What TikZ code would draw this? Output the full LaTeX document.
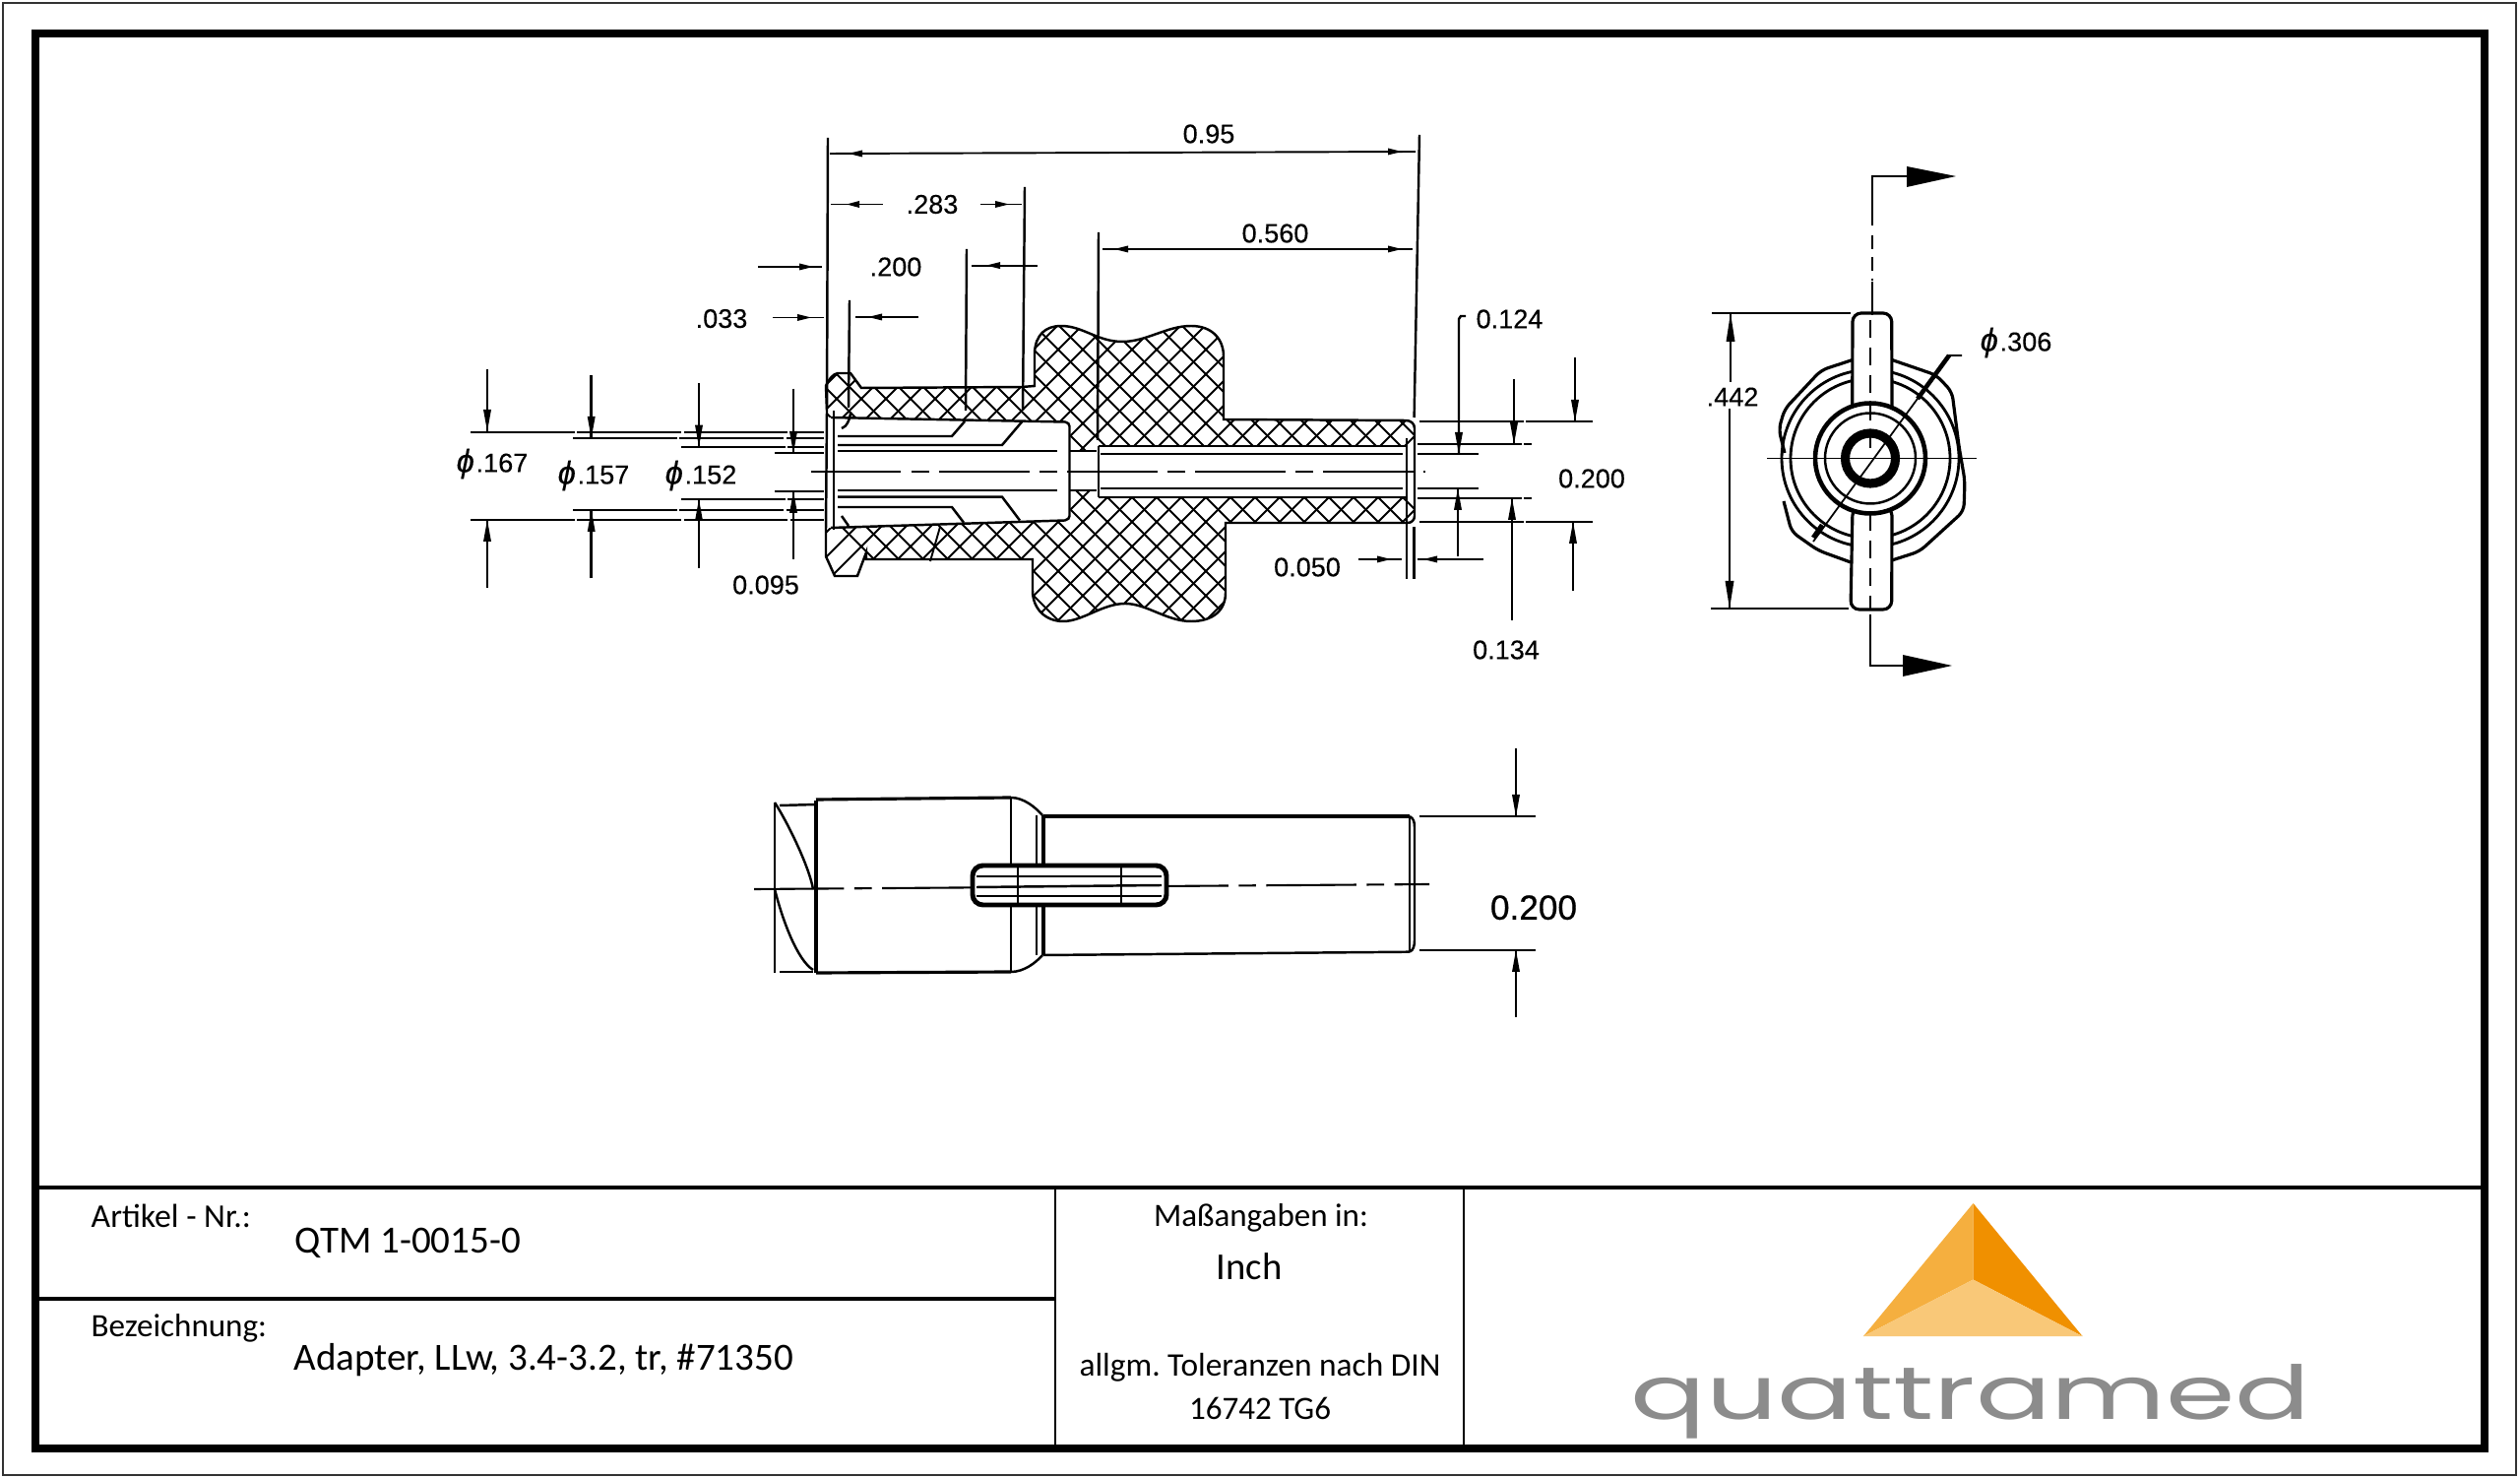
\documentclass[tikz,border=0pt]{standalone}
\usepackage{fontspec}
\usepackage{graphicx}
\setmainfont{Liberation Sans}
\newfontfamily\dimf[FakeBold=0.2]{Liberation Sans}
\newfontfamily\dimb[FakeBold=0.6]{Liberation Sans}
\newfontfamily\carl{Carlito}
\newfontfamily\pop{Poppins}
\newcommand{\tipR}[2]{\fill (#1,#2) -- ++(-14,-3.5) -- ++(0,7) -- cycle;}
\newcommand{\tipL}[2]{\fill (#1,#2) -- ++(14,-3.5) -- ++(0,7) -- cycle;}
\newcommand{\tipD}[2]{\fill (#1,#2) -- ++(-4,-22) -- ++(8,0) -- cycle;}
\newcommand{\tipU}[2]{\fill (#1,#2) -- ++(-4,22) -- ++(8,0) -- cycle;}
\newcommand{\dia}{{\fontsize{9.3pt}{12pt}\selectfont\itshape ϕ}\kern0.5pt}
\tikzset{
  ln/.style={line width=0.7pt,black},
  thk/.style={line width=0.9pt,black},
  thin/.style={line width=0.55pt,black},
  ext/.style={line width=0.6pt,black,dash pattern=on 30pt off 0.8pt},
  ctr/.style={line width=0.6pt,black,dash pattern=on 26pt off 3pt on 5pt off 3pt},
  dimt/.style={inner sep=0pt,font=\dimf\fontsize{7.7pt}{9pt}\selectfont},
  tb/.style={inner sep=0pt,anchor=base west,font=\frenchspacing\carl\fontsize{9.4pt}{11pt}\selectfont},
  tbc/.style={inner sep=0pt,anchor=base,font=\frenchspacing\carl\fontsize{9.4pt}{11pt}\selectfont},
  tbl/.style={inner sep=0pt,anchor=base west,font=\frenchspacing\carl\fontsize{11.1pt}{13pt}\selectfont},
}
\definecolor{lgL}{HTML}{F5AF3F}
\definecolor{lgR}{HTML}{F09000}
\definecolor{lgB}{HTML}{F9C878}
\definecolor{lgT}{HTML}{8C8C8C}
\begin{document}
\begin{tikzpicture}[x=0.01cm,y=-0.01cm]
\useasboundingbox (0,0) rectangle (2560,1501);
\fill[white] (0,0) rectangle (2560,1501);
% frames
\draw[line width=0.8pt,black!80] (3,3) rectangle (2556,1498);
\draw[line width=2.3pt] (36,34) rectangle (2524,1471);
\draw[line width=0.9pt] (36,1206) -- (2524,1206);
\draw[line width=0.9pt] (36,1319) -- (1072,1319);
\draw[line width=0.7pt] (1072,1206) -- (1072,1467);
\draw[line width=0.7pt] (1487,1206) -- (1487,1467);
% title block text
\node[tb,font=\frenchspacing\carl\fontsize{9.6pt}{11pt}\selectfont] (artikel) at (92,1247) {Artikel - Nr.:};
\node[tbl] (qtm) at (299,1272.6) {QTM 1-0015-0};
\node[tb] (bez) at (92,1357) {Bezeichnung:};
\node[tbl] (adapter) at (298,1391.5) {Adapter, LLw, 3.4-3.2, tr, \#71350};
\node[tbc] (mass) at (1281,1245.6) {Maßangaben in:};
\node[tbc,font=\carl\fontsize{11pt}{13pt}\selectfont] (inch) at (1269,1299.5) {Inch};
\node[tbc,font=\frenchspacing\carl\fontsize{9.5pt}{11pt}\selectfont] (tol1) at (1280,1397) {allgm. Toleranzen nach DIN};
\node[tbc] (tol2) at (1280,1441) {16742 TG6};
% logo
\fill[lgL] (2004.5,1222) -- (1893,1357) -- (2004.5,1299.5) -- cycle;
\fill[lgR] (2004.5,1222) -- (2115.5,1357) -- (2004.5,1299.5) -- cycle;
\fill[lgB] (1893,1357) -- (2004.5,1299.5) -- (2115.5,1357) -- cycle;
\node[inner sep=0pt,anchor=base west,text=lgT] (logo) at (1656,1441)
  {\resizebox{6.9cm}{\height}{\pop\fontsize{21.5pt}{24pt}\selectfont quattramed}};
% ===== section view =====
\def\outline{(840,417) -- (839,392) .. controls (842,385) and (846,380) .. (851,379) -- (864,379) -- (875,394) -- (1038,393) -- (1051,392) -- (1051,358)
 .. controls (1052,340) and (1062,331) .. (1078,331)
 .. controls (1100,331) and (1115,347) .. (1140,347)
 .. controls (1165,347) and (1185,331) .. (1210,331)
 .. controls (1232,331) and (1243,345) .. (1243,362)
 -- (1243,426) -- (1428,427) .. controls (1433,427) and (1437,430) .. (1437,435)
 -- (1437,524) .. controls (1437,528) and (1434,531) .. (1430,531)
 -- (1245,531) -- (1245,602)
 .. controls (1245,620) and (1232,631) .. (1210,631)
 .. controls (1185,631) and (1165,613) .. (1143,613)
 .. controls (1120,613) and (1100,631) .. (1080,631)
 .. controls (1062,631) and (1049,618) .. (1049,600)
 -- (1049,568) -- (880,568) -- (880,561) -- (871,585) -- (848,585) -- (839,565) -- (839,537) -- cycle}
\begin{scope}
  \clip \outline;
  \foreach \k in {0,25,...,1000}{
    \draw[line width=0.55pt] (640+\k,320) -- (960+\k,640);
    \draw[line width=0.55pt] (1160+\k-300,320) -- (840+\k-300,640);
  }
\end{scope}
% core (bore) white
\fill[white] (840,424) -- (1082,428.5) -- (1087,432) -- (1087,458) -- (1116,458) -- (1116,453) -- (1436,453) -- (1436,505) -- (1116,505) -- (1116,498) -- (1087,498) -- (1087,525) -- (1082,528.5) -- (840,536) -- cycle;
\draw[ln] \outline;
% bore lines
\draw[ln] (844,424) -- (1082,428.5) .. controls (1085,429) and (1086.5,431) .. (1086.5,433) -- (1086.5,524) .. controls (1086.5,526) and (1085,528) .. (1082,528.5) -- (844,536);
\draw[ln] (847,417) -- (847,538);
\draw[ln] (851,443) -- (967,443) -- (980,428);
\draw[ln] (851,452) -- (1018,452) -- (1038,428.5);
\draw[ln] (851,458) -- (1074,458);
\draw[ln] (851,498) -- (1074,498);
\draw[ln] (851,504.6) -- (1018,504.6) -- (1036,528.5);
\draw[ln] (851,515) -- (967,515) -- (979,530.7);
\draw[ln] (855,524) -- (862,534);
\draw[ln] (864,418) .. controls (864,425) and (860,434) .. (855,435);
\draw[ln] (1086.5,458) -- (1114,458);
\draw[ln] (1086.5,498) -- (1114,498);
\draw[ln] (1116,453) -- (1116,505);
\draw[ln] (1116,453) -- (1429,453);
\draw[ln] (1116,505) -- (1429,505);
\draw[ln] (1118,461) -- (1425,461);
\draw[ln] (1118,496) -- (1425,496);
\draw[ln] (1429,445) -- (1429,535);
\draw[thin] (955,535) -- (945,570);
\draw[ctr] (824,478.6) -- (1448,478.6);
% extension lines vertical
\draw[ln] (841,140) -- (840,415);
\draw[ln] (1442,137) -- (1436.6,424);
\draw[ln] (1041,190) -- (1039,417);
\draw[ln] (982,253) -- (981,417);
\draw[ln] (863,305) -- (862,414);
\draw[ln] (1116,236) -- (1115,447);
\draw[ln] (1429,535) -- (1429,588);
\draw[ln] (1436.6,535) -- (1436.6,588);
% horizontal dims top
\draw[thin] (843,156) -- (1438,154);
\tipL{862}{156} \tipR{1424}{154}
\draw[thin] (844,207.5) -- (897,207.5);
\draw[thin] (996,207.5) -- (1038,207.5);
\fill (860,207.5) -- (873,204) -- (873,211) -- cycle;
\tipR{1025}{207.5}
\draw[thin] (987,269.6) -- (1054,269.6);
\tipL{1002}{269.6}
\draw[line width=0.7pt] (770,271) -- (835,271);
\tipR{826}{271}
\draw[thin] (785,322.5) -- (837,322.5);
\tipR{824}{322.5}
\draw[thin] (869,322) -- (933,322);
\tipL{882}{322}
\draw[thin] (1120,253) -- (1435,253);
\tipL{1132}{253} \tipR{1424}{253}
\draw[ln] (1379.5,568) -- (1424,568);
\tipR{1413}{568}
\draw[ln] (1440,568) -- (1507,568);
\tipL{1446}{568}
% left ext lines
\draw[ext] (478,438.6) -- (837,438.6);
\draw[ext] (582,445) -- (837,445);
\draw[ext] (692,453.6) -- (837,453.6);
\draw[ext] (787,460) -- (837,460);
\draw[ext] (787,499) -- (837,499);
\draw[ext] (692,507) -- (837,507);
\draw[ext] (582,518) -- (837,518);
\draw[ext] (478,528) -- (837,528);
% left arrows
\draw[ln] (495,375) -- (495,438); \tipD{495}{438}
\draw[ln] (495,597.5) -- (495,528); \tipU{495}{528}
\draw[ln] (600.7,381) -- (600.7,445); \tipD{600.7}{445}
\draw[ln] (600.7,587.5) -- (600.7,518); \tipU{600.7}{518}
\draw[ln] (710,389) -- (710,453.6); \tipD{710}{453.6}
\draw[ln] (710,577) -- (710,507); \tipU{710}{507}
\draw[ln] (806,394.6) -- (806,460); \tipD{806}{460}
\draw[ln] (806,568) -- (806,499); \tipU{806}{499}
% right ext lines
\draw[ext] (1442,428) -- (1618,428);
\draw[ext] (1440,451) -- (1556,451);
\draw[ext] (1440,461) -- (1502,461);
\draw[ext] (1440,496) -- (1502,496);
\draw[ext] (1440,505.7) -- (1556,505.7);
\draw[ext] (1442,530) -- (1618,530);
% right arrows
\draw[ln] (1600,363) -- (1600,428); \tipD{1600}{428}
\draw[ln] (1598,600) -- (1598,530); \tipU{1598}{530}
\draw[ln] (1538,385) -- (1538,451); \tipD{1538}{451}
\draw[ln] (1536,630) -- (1536,506); \tipU{1536}{506}
\draw[ln] (1489,321) -- (1484,321) -- (1482,324) -- (1482,461); \tipD{1482}{461}
\draw[ln] (1481,565) -- (1481,496); \tipU{1481}{496}
% section labels
\node[dimt] (d95) at (1228,136) {0.95};
\node[dimt] (d283) at (947,207.5) {.283};
\node[dimt] (d200a) at (910,271) {.200};
\node[dimt] (d033) at (733,323.6) {.033};
\node[dimt] (d560) at (1295.5,237) {0.560};
\node[dimt] (d124) at (1533.5,324) {0.124};
\node[dimt] (d200b) at (1617,486) {0.200};
\node[dimt] (d050) at (1328,576) {0.050};
\node[dimt] (d134) at (1530,660) {0.134};
\node[dimt] (d095) at (778,594) {0.095};
\node[dimt] (p167) at (500,471) {\dia.167};
\node[dimt] (p157) at (603,483) {\dia.157};
\node[dimt] (p152) at (712,483) {\dia.152};
% ===== end view =====
\draw[line width=0.8pt] (1900,465.5) circle[radius=90];
\draw[thk,rounded corners=2pt] (1882,365.5) -- (1850,376) -- (1813,415.5) -- (1807,436) -- (1813,460);
\draw[thk,rounded corners=2pt] (1812,509) -- (1820,540) -- (1847,559) -- (1880,571);
\draw[thk,rounded corners=2pt] (1922,365.5) -- (1967,381) -- (1983,398) -- (1990,453) -- (1996,488) -- (1995,519) -- (1950,560) -- (1922,569);
\draw[line width=0.8pt] (1900,465.5) circle[radius=81];
\draw[thk,fill=white,rounded corners=2.5pt] (1881.7,420) -- (1882,318) -- (1921.7,318) -- (1922,420) -- cycle;
\draw[thk,fill=white,rounded corners=2.5pt] (1882,515) -- (1880,619) -- (1921.7,619) -- (1922,515) -- cycle;
\draw[line width=1.3pt,fill=white] (1900,465.5) circle[radius=56];
\draw[ln] (1900,465.5) circle[radius=46];
\draw[line width=2.6pt] (1900,465.5) circle[radius=25.5];
% section line
\draw[line width=0.7pt] (1938,179) -- (1902,179) -- (1902,229);
\draw[line width=0.8pt,dash pattern=on 4pt off 2.2pt] (1902,239) -- (1902,285);
\draw[line width=0.7pt] (1902,286) -- (1902,320);
\draw[line width=0.7pt,dash pattern=on 5pt off 3pt] (1900,325) -- (1900,465);
\draw[line width=0.7pt,dash pattern=on 5pt off 3pt] (1900,521) -- (1900,618);
\draw[line width=0.7pt] (1900,624) -- (1900,676) -- (1935,676);
\fill (1987,179) -- (1937,169) -- (1937,190) -- cycle;
\fill (1983,676) -- (1933,665) -- (1933,687) -- cycle;
% leader
\draw[line width=0.5pt] (1993,361) -- (1980,361) -- (1842,550);
\draw[line width=1.3pt] (1980,361) -- (1948,405);
\draw[line width=1.3pt] (1851,533) -- (1842,546);
\draw[line width=0.5pt] (1795,465.5) -- (2008,465.5);
% 442 dim
\draw[ln] (1739,318) -- (1880,318);
\draw[ln] (1738,618) -- (1878,618);
\draw[ln] (1758,318) -- (1758,388);
\draw[ln] (1757,415) -- (1757,618);
\fill (1758,318) -- (1753.5,347) -- (1762.5,347) -- cycle;
\fill (1757,618) -- (1752.5,590) -- (1761.5,590) -- cycle;
\node[dimt] (d442) at (1760,403) {.442};
\node[dimt] (p306) at (2048,348) {\dia.306};
% ===== bottom view =====
\draw[thk] (829,813) -- (829,988);
\draw[ln] (787,815) -- (787,988);
\draw[ln] (792,818) -- (829,817);
\draw[ln] (792,987) -- (826,987);
\draw[ln] (787,815) .. controls (800,835) and (822,880) .. (826,903);
\draw[ln] (787,903) .. controls (795,935) and (810,975) .. (826,985);
\draw[thk] (829,812) -- (1027,810);
\draw[ln] (1027,810) .. controls (1040,810) and (1052,820) .. (1059,828);
\draw[thk] (829,988) -- (1027,987);
\draw[ln] (1027,987) .. controls (1040,987) and (1052,978) .. (1059,970);
\draw[ln] (1027,810) -- (1027,987);
\draw[ln] (1053,828) -- (1053,970);
\draw[thk] (1060,828) -- (1060,970);
\draw[thk] (1060,829) -- (1432,829);
\draw[ln] (1060,970) -- (1432,966.7);
\draw[ln] (1432,829) -- (1432,966.7);
\draw[ln] (1432,829) .. controls (1436,831) and (1437,835) .. (1437,840) -- (1437,955) .. controls (1437,960) and (1436,965) .. (1432,966.7);
\draw[ctr] (766,903) -- (1452,898);
\draw[line width=1.4pt,fill=white,rounded corners=3pt] (988,879) rectangle (1185,919);
\draw[thin] (1034,879) -- (1034,919);
\draw[thin] (1139,879) -- (1139,919);
\draw[thin] (992,890) -- (1180,890);
\draw[ln] (992,901) -- (1180,899);
\draw[thin] (992,910) -- (1180,910);
\draw[ln] (1441.5,829) -- (1560,829);
\draw[ln] (1441.5,965) -- (1560,965);
\draw[ln] (1540,760) -- (1540,829); \tipD{1540}{829}
\draw[ln] (1540,1033) -- (1540,965); \tipU{1540}{965}
\node[dimt,font=\dimb\fontsize{10pt}{12pt}\selectfont] (d200c) at (1558,921.7) {0.200};
\end{tikzpicture}
\end{document}
